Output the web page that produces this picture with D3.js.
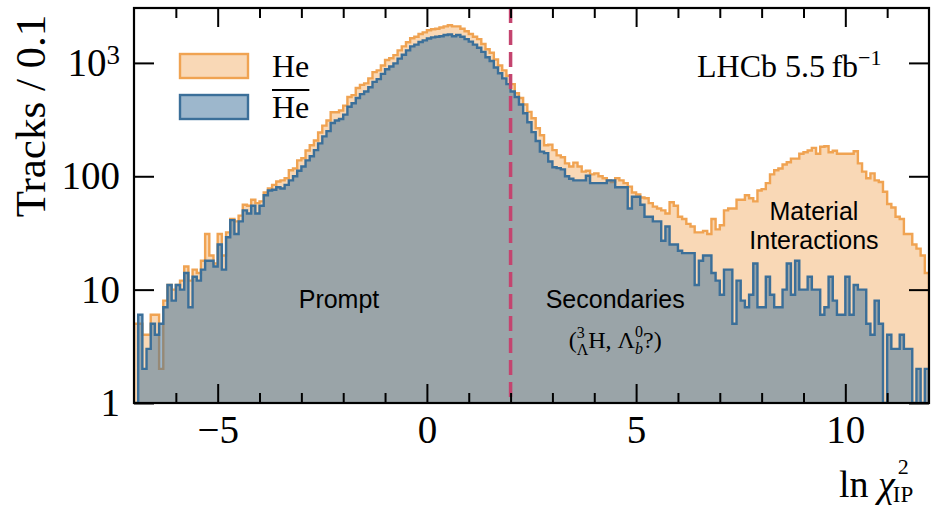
<!DOCTYPE html>
<html>
<head>
<meta charset="utf-8">
<script src="https://cdn.jsdelivr.net/npm/d3@7"></script>
<style>
body { margin: 0; background: #fff; }
svg { display: block; }
</style>
</head>
<body>
<div id="chart-area"></div>
<script>
// histogram binning: 190 bins of 0.1 from -7 to 12
var binStart = -7;
var binWidth = 0.1;

// He candidates per bin
var heCounts = [
    5, 5, 4, 4, 6, 6, 2, 8, 11, 10,
    11, 12, 16, 12, 15, 14, 18, 31, 20, 17,
    31, 20, 32, 42, 40, 45, 56, 55, 62, 58,
    60, 72, 78, 84, 90, 92, 96, 113, 117, 138,
    144, 169, 188, 207, 243, 280, 310, 367, 367, 380,
    420, 500, 520, 600, 640, 660, 730, 830, 860, 950,
    1060, 1100, 1170, 1290, 1400, 1520, 1650, 1700, 1800, 1860,
    1940, 1980, 2000, 2050, 2100, 2150, 2100, 2100, 2000, 1900,
    1800, 1700, 1620, 1470, 1320, 1230, 1070, 950, 860, 770,
    650, 540, 490, 430, 370, 325, 265, 230, 188, 190,
    170, 153, 147, 130, 122, 132, 122, 110, 112, 104,
    106, 100, 96, 92, 89, 96, 92, 87, 81, 72,
    69, 65, 64, 58, 54, 52, 50, 47, 59, 55,
    44, 42, 38, 36, 32, 32, 33, 31, 42, 34,
    37, 50, 52, 52, 62, 62, 68, 64, 60, 75,
    77, 87, 104, 113, 117, 127, 133, 143, 143, 158,
    163, 169, 178, 158, 182, 184, 163, 168, 158, 158,
    158, 158, 166, 130, 110, 96, 106, 92, 89, 73,
    57, 53, 44, 42, 31, 31, 25, 23, 20, 14
];

// anti-He candidates per bin
var antiHeCounts = [
    0, 6, 2, 3, 5, 4, 5, 7, 11, 8,
    11, 10, 14, 7, 13, 12, 15, 18, 18, 16,
    25, 15, 29, 41, 31, 40, 50, 47, 55, 47,
    55, 68, 75, 76, 80, 78, 84, 92, 100, 112,
    122, 138, 150, 170, 195, 225, 250, 295, 310, 320,
    350, 410, 440, 490, 530, 560, 610, 680, 720, 800,
    880, 930, 990, 1090, 1180, 1290, 1400, 1450, 1530, 1580,
    1640, 1680, 1700, 1720, 1760, 1780, 1720, 1760, 1700, 1620,
    1540, 1450, 1360, 1250, 1120, 1040, 910, 810, 730, 650,
    560, 500, 430, 360, 300, 245, 205, 165, 160, 135,
    120, 118, 115, 100, 95, 92, 92, 92, 101, 87,
    87, 87, 87, 92, 92, 80, 80, 80, 52, 66,
    66, 56, 44, 44, 40, 40, 27, 36, 25, 25,
    22, 21, 21, 21, 11, 18, 20, 20, 14, 12,
    9, 15, 15, 5, 12, 8, 7, 9, 17, 7,
    7, 13, 9, 7, 7, 10, 17, 9, 18, 10,
    10, 13, 10, 10, 6, 7, 13, 8, 6, 6,
    13, 6, 11, 10, 10, 5, 4, 8, 5, 0,
    4, 3, 3, 4, 3, 3, 0, 2, 0, 2
];

var xTicks = [-5, 0, 5, 10];
var xMinorTicks = [-6, -4, -3, -2, -1, 1, 2, 3, 4, 6, 7, 8, 9, 11];
var yTicks = [1, 10, 100, 1000];
var yTickLabels = ["1", "10", "100", "10^3"];
var cutValue = 2;

var heColor = "#f0a352",
    antiHeColor = "#3b6f99",
    cutColor = "#c4446f";

var margin = { top: 8, right: 2, bottom: 106, left: 134 },
    width = 931 - margin.left - margin.right,
    height = 509 - margin.top - margin.bottom;

var svg = d3.select("#chart-area")
    .append("svg")
    .attr("width", width + margin.left + margin.right)
    .attr("height", height + margin.top + margin.bottom);

var g = svg.append("g")
    .attr("transform", "translate(" + margin.left + "," + margin.top + ")");

var x = d3.scaleLinear()
    .domain([binStart, binStart + heCounts.length * binWidth])
    .range([0, width]);

var y = d3.scaleLog()
    .domain([1, 3050])
    .range([height, 0])
    .clamp(true);

svg.append("defs").append("clipPath")
    .attr("id", "plot-clip")
    .append("rect")
    .attr("width", width)
    .attr("height", height);

function stepPoints(counts) {
    var pts = counts.map((c, i) => ({ x: binStart + i * binWidth, c: c }));
    pts.push({ x: binStart + counts.length * binWidth, c: counts[counts.length - 1] });
    return pts;
}

var area = d3.area()
    .curve(d3.curveStepAfter)
    .x(d => x(d.x))
    .y0(height)
    .y1(d => y(Math.max(d.c, 0.5)));

var outline = d3.line()
    .curve(d3.curveStepAfter)
    .x(d => x(d.x))
    .y(d => y(Math.max(d.c, 0.5)));

var plot = g.append("g").attr("clip-path", "url(#plot-clip)");

function drawHist(counts, color, fillOpacity) {
    var pts = stepPoints(counts);
    var edge = [{ x: pts[0].x, c: 0 }].concat(pts, [{ x: pts[pts.length - 1].x, c: 0 }]);
    plot.append("path")
        .attr("d", area(pts))
        .attr("fill", color)
        .attr("fill-opacity", fillOpacity);
    plot.append("path")
        .attr("d", outline(edge))
        .attr("fill", "none")
        .attr("stroke", color)
        .attr("stroke-width", 2.4);
}

drawHist(heCounts, heColor, 0.42);
drawHist(antiHeCounts, antiHeColor, 0.5);

// cut line
plot.append("line")
    .attr("x1", x(cutValue))
    .attr("x2", x(cutValue))
    .attr("y1", 0)
    .attr("y2", height)
    .attr("stroke", cutColor)
    .attr("stroke-width", 3.5)
    .attr("stroke-dasharray", "15,7");

// axes, ticks pointing inward
var serif = "'Liberation Serif', 'Times New Roman', serif";
var sans = "'Liberation Sans', Arial, sans-serif";

function styleAxis(sel) {
    sel.select(".domain").remove();
    sel.selectAll("line").attr("stroke", "#000").attr("stroke-width", 2);
    sel.selectAll("text").attr("fill", "#000").style("font-family", serif).style("font-size", "39px");
}

g.append("g")
    .attr("transform", "translate(0," + height + ")")
    .call(d3.axisBottom(x).tickValues(xMinorTicks).tickSize(-10).tickFormat(""))
    .call(styleAxis);

g.append("g")
    .attr("class", "x-axis")
    .attr("transform", "translate(0," + height + ")")
    .call(d3.axisBottom(x).tickValues(xTicks).tickSize(-19).tickPadding(12)
        .tickFormat(d => d < 0 ? "\u2212" + Math.abs(d) : d))
    .call(styleAxis);

g.append("g")
    .call(d3.axisTop(x).tickValues(xMinorTicks).tickSize(-10).tickFormat(""))
    .call(styleAxis);

g.append("g")
    .call(d3.axisTop(x).tickValues(xTicks).tickSize(-19).tickFormat(""))
    .call(styleAxis);

g.append("g")
    .attr("class", "y-axis")
    .call(d3.axisLeft(y).tickValues(yTicks).tickSize(-20).tickPadding(14)
        .tickFormat((d, i) => yTickLabels[i]))
    .call(styleAxis)
    .selectAll("text")
    .each(function(d, i) {
        var parts = yTickLabels[i].split("^");
        if (parts.length > 1) {
            var t = d3.select(this).text(parts[0]);
            t.append("tspan")
                .attr("dy", "-0.45em")
                .style("font-size", "27px")
                .text(parts[1]);
        }
    });

g.append("g")
    .attr("transform", "translate(" + width + ",0)")
    .call(d3.axisRight(y).tickValues(yTicks).tickSize(-20).tickFormat(""))
    .call(styleAxis);

g.append("rect")
    .attr("width", width)
    .attr("height", height)
    .attr("fill", "none")
    .attr("stroke", "#000")
    .attr("stroke-width", 2.2);

// axis titles
svg.append("text")
    .attr("transform", "translate(45," + (margin.top + 108) + ") rotate(-90)")
    .attr("text-anchor", "middle")
    .style("font-family", serif)
    .style("font-size", "43px")
    .text("Tracks / 0.1");

var xLabel = svg.append("text")
    .attr("x", 839)
    .attr("y", 497)
    .style("font-family", serif)
    .style("font-size", "38px");
xLabel.append("tspan").text("ln ");
xLabel.append("tspan").style("font-style", "italic").text("\u03c7");
var xLabelEnd = 839 + xLabel.node().getComputedTextLength();
svg.append("text")
    .attr("x", xLabelEnd + 3)
    .attr("y", 474)
    .style("font-family", serif)
    .style("font-size", "22px")
    .text("2");
svg.append("text")
    .attr("x", xLabelEnd - 2)
    .attr("y", 502)
    .style("font-family", serif)
    .style("font-size", "23px")
    .text("IP");

// legend
var legend = svg.append("g");
var legendItems = [
    { label: "He", color: heColor, opacity: 0.42, bar: false },
    { label: "He", color: antiHeColor, opacity: 0.5, bar: true }
];
legendItems.forEach((d, i) => {
    var top = 54 + i * 41;
    legend.append("rect")
        .attr("x", 180)
        .attr("y", top)
        .attr("width", 68)
        .attr("height", 24)
        .attr("fill", d.color)
        .attr("fill-opacity", d.opacity)
        .attr("stroke", d.color)
        .attr("stroke-width", 2.4);
    var t = legend.append("text")
        .attr("x", 272)
        .attr("y", top + 23)
        .style("font-family", serif)
        .style("font-size", "32px")
        .text(d.label);
    if (d.bar) {
        var w = t.node().getComputedTextLength();
        legend.append("line")
            .attr("x1", 272)
            .attr("x2", 272 + w)
            .attr("y1", top - 5)
            .attr("y2", top - 5)
            .attr("stroke", "#000")
            .attr("stroke-width", 1.8);
    }
});

// experiment label
var lhcb = svg.append("text")
    .attr("x", 697)
    .attr("y", 77)
    .style("font-family", serif)
    .style("font-size", "32px");
lhcb.append("tspan").text("LHCb 5.5\u2009fb");
lhcb.append("tspan").attr("dy", -12).style("font-size", "22px").text("\u22121");

// region annotations
function annotate(txt, xv, yPix) {
    g.append("text")
        .attr("x", x(xv))
        .attr("y", yPix)
        .attr("text-anchor", "middle")
        .style("font-family", sans)
        .style("font-size", "25px")
        .text(txt);
}
annotate("Prompt", -2.1, 300);
annotate("Secondaries", 4.5, 300);
annotate("Material", 9.25, 212);
annotate("Interactions", 9.25, 241);

var hyp = g.append("text")
    .attr("x", x(4.5))
    .attr("y", 340)
    .attr("text-anchor", "middle")
    .style("font-family", serif)
    .style("font-size", "24px");
hyp.append("tspan").text("(");
hyp.append("tspan").attr("dy", -10).style("font-size", "16px").text("3");
hyp.append("tspan").attr("dx", -8).attr("dy", 17).style("font-size", "16px").text("\u039b");
hyp.append("tspan").attr("dy", -7).text("H, \u039b");
hyp.append("tspan").attr("dy", 6).style("font-size", "16px").style("font-style", "italic").text("b");
hyp.append("tspan").attr("dx", -8).attr("dy", -17).style("font-size", "16px").text("0");
hyp.append("tspan").attr("dy", 11).text("?)");
</script>
</body>
</html>
